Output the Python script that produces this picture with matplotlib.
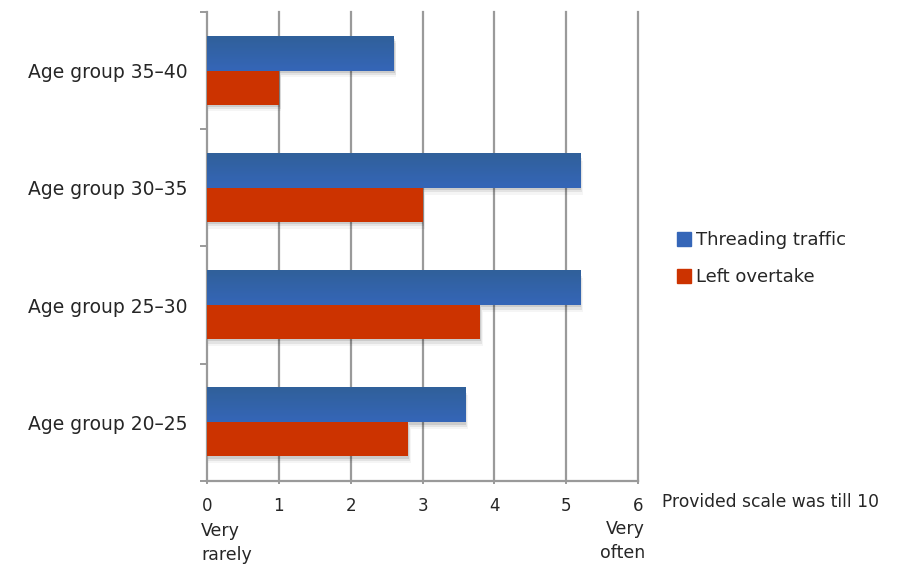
import matplotlib.pyplot as plt
import matplotlib
import numpy as np
from matplotlib.colors import LinearSegmentedColormap
from matplotlib.patches import Rectangle, Patch

matplotlib.rcParams['font.family'] = ['DejaVu Sans']

groups = ['Age group 20\u201325', 'Age group 25\u201330', 'Age group 30\u201335', 'Age group 35\u201340']
threading = [3.6, 5.2, 5.2, 2.6]
left_overtake = [2.8, 3.8, 3.0, 1.0]
xticks = [0, 1, 2, 3, 4, 5, 6]

blue_top = '#30609a'
blue_bot = '#3566b8'
red = '#cc3300'
txt = '#262626'
grid_c = '#9a9a9a'

fig = plt.figure(figsize=(8.99, 5.66), dpi=100)
ax = fig.add_axes([0.2303, 0.150, 0.4794, 0.829])

h = 0.29
blue_cmap = LinearSegmentedColormap.from_list('bl', [blue_bot, blue_top])
grad = np.linspace(0, 1, 64).reshape(-1, 1)

for i, (b, r) in enumerate(zip(threading, left_overtake)):
    yb = i + 0.145
    yr = i - 0.145
    # soft shadow under each bar
    for k, a in enumerate([0.10, 0.07, 0.04]):
        off = 0.012 * (k + 1)
        ax.add_patch(Rectangle((0, yb - h / 2 - off * 1.6), b + off, h, color='black', alpha=a, lw=0, zorder=2))
        ax.add_patch(Rectangle((0, yr - h / 2 - off * 1.6), r + off, h, color='black', alpha=a, lw=0, zorder=2))
    ax.barh(yr, r, height=h, color=red, zorder=3)
    # blue bar with vertical gradient
    ax.imshow(grad, cmap=blue_cmap, aspect='auto', origin='lower',
              extent=(0, b, yb - h / 2, yb + h / 2), zorder=4)

ax.set_xlim(0, 6)
ax.set_ylim(-0.5, 3.5)
ax.set_xticks(xticks)
ax.set_xticklabels([str(t) for t in xticks], fontsize=12, color=txt)
for t in xticks[1:]:
    ax.axvline(t, color=grid_c, lw=1.6, zorder=0, clip_on=False)

ax.set_yticks(range(len(groups)))
ax.set_yticklabels(groups, fontsize=13.5, color=txt)
ax.set_yticks([-0.5, 0.5, 1.5, 2.5, 3.5], minor=True)
ax.tick_params(axis='y', which='major', length=0, pad=14)
ax.tick_params(axis='y', which='minor', length=5, color=grid_c, width=1.4)
ax.tick_params(axis='x', length=5, direction='inout', color=grid_c, width=1.4, pad=9)

for s in ['top', 'right']:
    ax.spines[s].set_visible(False)
for s in ['left', 'bottom']:
    ax.spines[s].set_color(grid_c)
    ax.spines[s].set_linewidth(1.6)

handles = [Patch(color=blue_bot, label='Threading traffic'), Patch(color=red, label='Left overtake')]
leg = fig.legend(handles=handles, loc='upper left', bbox_to_anchor=(0.735, 0.62), frameon=False,
                 fontsize=13, handlelength=0.75, handleheight=0.75, handletextpad=0.3,
                 labelspacing=1.05, labelcolor=txt)

fig.text(662 / 899, 1 - 502 / 566, 'Provided scale was till 10', fontsize=12.3, color=txt, va='center')
fig.text(201 / 899, 1 - 531 / 566, 'Very', fontsize=12.5, color=txt, va='center')
fig.text(201 / 899, 1 - 555 / 566, 'rarely', fontsize=12.5, color=txt, va='center')
fig.text(645 / 899, 1 - 529 / 566, 'Very', fontsize=12.5, color=txt, va='center', ha='right')
fig.text(645 / 899, 1 - 553 / 566, 'often', fontsize=12.5, color=txt, va='center', ha='right')

plt.savefig('out.png', dpi=100)
